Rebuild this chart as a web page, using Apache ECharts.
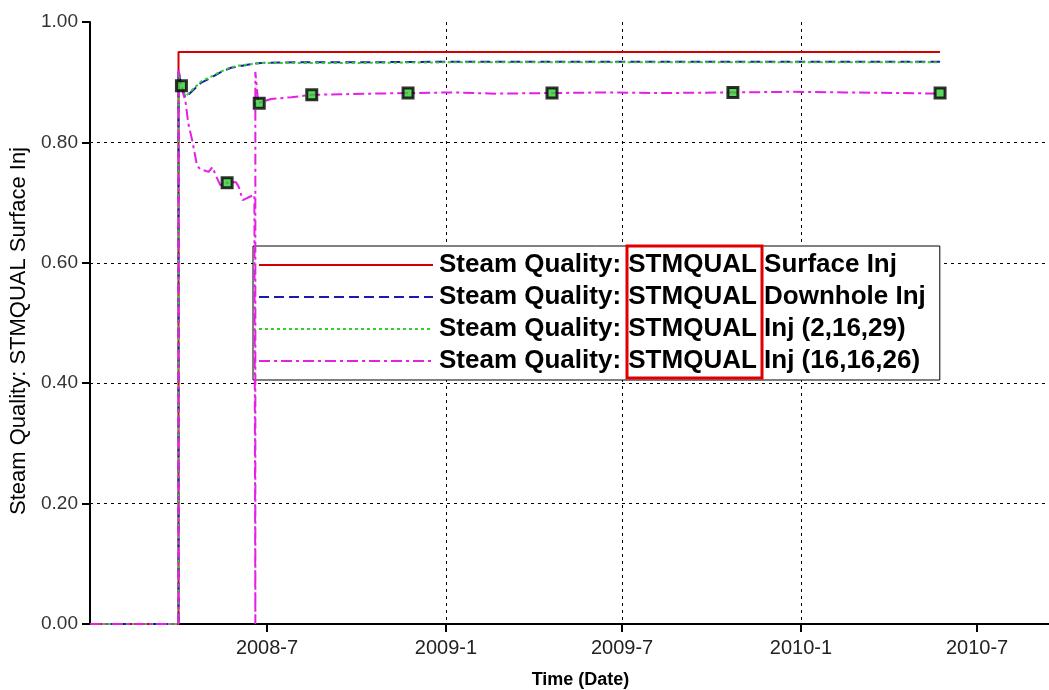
<!DOCTYPE html>
<html>
<head>
<meta charset="utf-8">
<script src="https://cdn.jsdelivr.net/npm/echarts@6/dist/echarts.min.js"></script>
<style>
html,body{margin:0;padding:0;background:#fff;}
#chart{width:1049px;height:690px;}
</style>
</head>
<body>
<div id="chart"></div>
<script>
// ---- data ----
var seriesNames = [
  'Steam Quality: STMQUAL Surface Inj',
  'Steam Quality: STMQUAL Downhole Inj',
  'Steam Quality: STMQUAL Inj (2,16,29)',
  'Steam Quality: STMQUAL Inj (16,16,26)'
];

var surfaceDates = ['2008-01-01','2008-04-01','2008-04-01','2010-05-24'];
var surfaceValues = [0, 0, 0.95, 0.95];

var downholeDates = ['2008-01-01','2008-04-01','2008-04-01','2008-04-04','2008-04-08','2008-04-13','2008-04-24','2008-05-04','2008-05-15','2008-05-25','2008-06-04','2008-06-14','2008-06-25','2008-08-01','2008-10-01','2009-01-01','2009-06-01','2010-01-01','2010-05-24'];
var downholeValues = [0, 0, 0.92, 0.893, 0.875, 0.882, 0.899, 0.907, 0.917, 0.924, 0.927, 0.930, 0.932, 0.933, 0.933, 0.934, 0.934, 0.934, 0.934];

var inj21629Dates = ['2008-01-01','2008-04-01','2008-04-01','2008-04-04','2008-04-08','2008-04-13','2008-04-24','2008-05-04','2008-05-15','2008-05-25','2008-06-04','2008-06-14','2008-06-25','2008-08-01','2008-10-01','2009-01-01','2009-06-01','2010-01-01','2010-05-24'];
var inj21629Values = [0, 0, 0.915, 0.894, 0.876, 0.884, 0.901, 0.909, 0.918, 0.925, 0.928, 0.930, 0.932, 0.932, 0.932, 0.933, 0.933, 0.933, 0.933];

var inj161626Dates = ['2008-01-01','2008-04-01','2008-04-01','2008-04-05','2008-04-08','2008-04-11','2008-04-15','2008-04-20','2008-04-23','2008-05-02','2008-05-06','2008-05-09','2008-05-14','2008-05-21','2008-05-30','2008-06-02','2008-06-06','2008-06-11','2008-06-18','2008-06-19','2008-06-19','2008-06-19','2008-06-22','2008-07-05','2008-07-26','2008-08-16','2008-09-15','2008-10-16','2008-11-23','2009-01-10','2009-02-20','2009-04-20','2009-06-15','2009-08-10','2009-10-23','2009-12-20','2010-02-15','2010-04-10','2010-05-24'];
var inj161626Values = [0, 0, 0.92, 0.885, 0.870, 0.832, 0.804, 0.762, 0.756, 0.751, 0.759, 0.746, 0.729, 0.733, 0.734, 0.726, 0.704, 0.708, 0.713, 0.713, 0, 0.917, 0.865, 0.872, 0.875, 0.879, 0.880, 0.881, 0.882, 0.883, 0.881, 0.882, 0.883, 0.882, 0.883, 0.884, 0.883, 0.882, 0.881];

var markerDates = ['2008-04-04','2008-05-21','2008-06-23','2008-08-16','2008-11-23','2009-04-20','2009-10-23','2010-05-24'];
var markerValues = [0.894, 0.733, 0.865, 0.879, 0.882, 0.882, 0.883, 0.882];

var xTickDates = ['2008-07-01','2009-01-01','2009-07-01','2010-01-01','2010-07-01'];
var xTickLabels = ['2008-7','2009-1','2009-7','2010-1','2010-7'];
var xRange = ['2008-01-01', '2010-09-13'];
var yTicks = [0, 0.2, 0.4, 0.6, 0.8, 1.0];

function ts(s) {
  var p = s.split('-');
  return Date.UTC(+p[0], +p[1] - 1, +p[2]);
}
function pairs(d, v) {
  return d.map(function (s, i) { return [ts(s), v[i]]; });
}
var xTickValues = xTickDates.map(ts);

var FONT = '"Liberation Sans", Arial, sans-serif';
var chart = echarts.init(document.getElementById('chart'));

var option = {
  backgroundColor: '#ffffff',
  animation: false,
  grid: { left: 90, right: 0, top: 22, bottom: 66, containLabel: false, outerBoundsMode: 'none' },
  legend: {
    data: seriesNames,
    orient: 'vertical',
    left: 253,
    top: 246,
    padding: [3, 14, 3, 5],
    itemGap: 0,
    itemWidth: 174,
    itemHeight: 14,
    backgroundColor: '#ffffff',
    borderColor: '#000000',
    borderWidth: 1,
    borderRadius: 0,
    selectedMode: false,
    itemStyle: { opacity: 0 },
    textStyle: {
      fontFamily: FONT,
      fontSize: 26,
      fontWeight: 'bold',
      color: '#000',
      lineHeight: 32,
      padding: [0, 0, 0, 1]
    }
  },
  xAxis: {
    type: 'value',
    min: ts(xRange[0]),
    max: ts(xRange[1]),
    name: 'Time (Date)',
    nameLocation: 'middle',
    nameGap: 47,
    nameTextStyle: { fontFamily: FONT, fontSize: 18, fontWeight: 'bold', color: '#000', padding: [0, 0, 0, 22] },
    axisLine: { show: true, lineStyle: { color: '#000', width: 2 } },
    axisTick: { show: true, length: 8, customValues: xTickValues, lineStyle: { color: '#000', width: 2 } },
    axisLabel: {
      customValues: xTickValues,
      fontFamily: FONT,
      fontSize: 20,
      color: '#222',
      margin: 14,
      formatter: function (val) {
        var i = xTickValues.indexOf(+val);
        return i >= 0 ? xTickLabels[i] : '';
      }
    },
    splitLine: { show: true, showMinLine: false, showMaxLine: false, lineStyle: { color: '#000', width: 1, type: [3, 4] } }
  },
  yAxis: {
    type: 'value',
    min: yTicks[0],
    max: yTicks[yTicks.length - 1],
    interval: 0.2,
    name: 'Steam Quality: STMQUAL Surface Inj',
    nameLocation: 'middle',
    nameGap: 60,
    nameTextStyle: { fontFamily: FONT, fontSize: 22, color: '#000', padding: [0, 16, 0, 0] },
    axisLine: { show: true, lineStyle: { color: '#000', width: 2 } },
    axisTick: { show: true, length: 8, lineStyle: { color: '#000', width: 2 } },
    axisLabel: {
      fontFamily: FONT,
      fontSize: 19,
      color: '#333',
      margin: 12,
      formatter: function (v) { return v.toFixed(2); }
    },
    splitLine: { show: true, showMinLine: false, showMaxLine: false, lineStyle: { color: '#000', width: 1, type: [3, 4] } }
  },
  series: [
    {
      name: seriesNames[0], type: 'line', symbol: 'none', z: 4,
      data: pairs(surfaceDates, surfaceValues),
      lineStyle: { color: '#d40000', width: 2, type: 'solid' },
      itemStyle: { color: '#d40000' }
    },
    {
      name: seriesNames[1], type: 'line', symbol: 'none', z: 5,
      data: pairs(downholeDates, downholeValues),
      lineStyle: { color: '#1a1ab0', width: 2, type: [10, 5] },
      itemStyle: { color: '#1a1ab0' }
    },
    {
      name: seriesNames[2], type: 'line', symbol: 'none', z: 6,
      data: pairs(inj21629Dates, inj21629Values),
      lineStyle: { color: '#33cc33', width: 2, type: [3, 3] },
      itemStyle: { color: '#33cc33' }
    },
    {
      name: seriesNames[3], type: 'line', symbol: 'none', z: 7,
      data: pairs(inj161626Dates, inj161626Values),
      lineStyle: { color: '#e61ee6', width: 2, type: [11, 4, 3, 4] },
      itemStyle: { color: '#e61ee6' }
    },
    {
      name: 'markers', type: 'scatter', z: 8,
      symbol: 'rect', symbolSize: 10,
      data: pairs(markerDates, markerValues),
      itemStyle: { color: '#33cc33', borderColor: '#000', borderWidth: 3 }
    }
  ],
  graphic: [
    {
      type: 'rect', z: 100,
      shape: { x: 627, y: 246, width: 135, height: 132 },
      style: { fill: 'none', stroke: '#e00000', lineWidth: 3 }
    }
  ]
};
chart.setOption(option);
</script>
</body>
</html>
